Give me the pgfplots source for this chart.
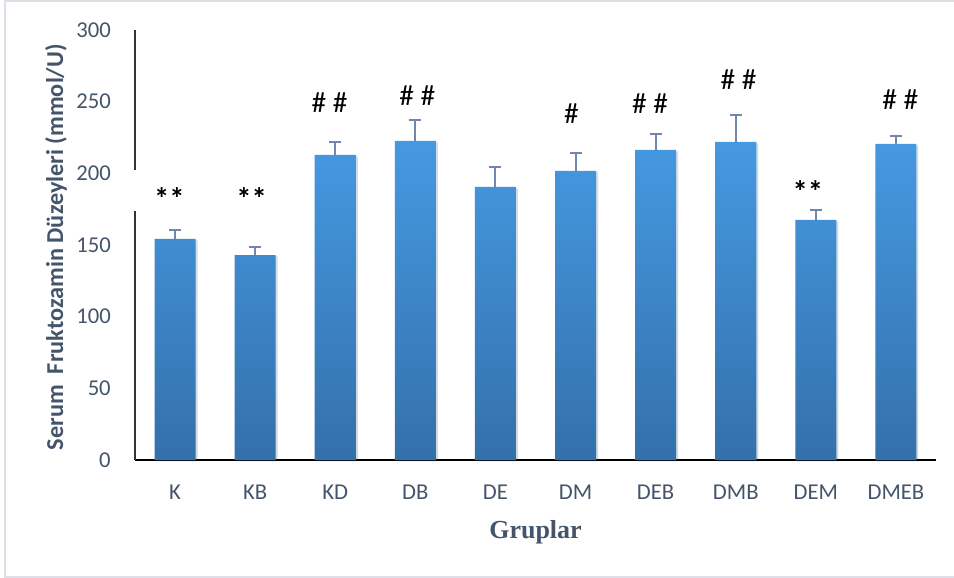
\documentclass[border=0pt]{standalone}
\usepackage{fontspec}
\setmainfont{Carlito}
\newfontfamily\timesfont{Liberation Serif}
\usepackage{pgfplots}
\usepackage{pgfplotstable}
\pgfplotsset{compat=1.18}

\definecolor{barTop}{HTML}{4599E1}
\definecolor{barBot}{HTML}{3470AB}
\definecolor{errCol}{HTML}{6F87A8}
\definecolor{textCol}{HTML}{44546A}
\definecolor{frameCol}{HTML}{DDE1E7}

% group means and upper error (mmol/U)
\pgfplotstableread{
x  y      e
0  154.2  6.3
1  143.0  5.3
2  212.8  9.3
3  222.6  14.7
4  190.5  13.7
5  201.7  12.8
6  216.3  11.4
7  221.9  18.8
8  167.5  7.2
9  220.5  5.8
}\fruktozamin

\begin{document}
\begin{tikzpicture}
\useasboundingbox (0,0) rectangle (715.5pt,-433.5pt);
\draw[frameCol, line width=1.5pt] (3.75pt,-0.75pt) rectangle (730pt,-432.75pt);
\begin{axis}[
  at={(101.25pt,-345pt)}, anchor=south west,
  scale only axis, width=600.75pt, height=322.5pt,
  clip=false,
  ybar,
  xmin=-0.5, xmax=9.5, ymin=0, ymax=300,
  ytick={0,50,...,300},
  xtick={0,...,9},
  xticklabels={K,KB,KD,DB,DE,DM,DEB,DMB,DEM,DMEB},
  axis x line=bottom, axis y line=left, axis line style={-},
  x axis line style={black, line width=1.1pt},
  y axis line style={black!80, line width=0.9pt},
  major tick length=0pt,
  tick label style={font=\fontsize{17}{19}\selectfont, text=textCol},
  /pgf/number format/assume math mode=true,
  xticklabel style={anchor=base, yshift=-29.25pt, inner sep=0pt},
  yticklabel style={anchor=east, xshift=-18pt, inner sep=0pt},
  ylabel={Serum\ \ Fruktozamin Düzeyleri (mmol/U)},
  ylabel style={at={(axis description cs:-0.0986,0.495)}, anchor=center,
    font=\fontsize{18.2}{21}\selectfont\bfseries, text=textCol},
  xlabel={Gruplar},
  xlabel style={at={(axis description cs:0.5,-0.1814)}, anchor=base,
    font=\fontsize{19.5}{22}\selectfont\timesfont\bfseries, text=textCol},
]
\addplot[bar width=0.5125, draw=none, top color=barTop, bottom color=barBot,
  preaction={fill=black, opacity=0.10, draw=none,
    transform canvas={xshift=1.5pt, yshift=-1pt}},
  error bars/.cd, y dir=plus, y explicit,
  error bar style={errCol, line width=1.5pt},
  error mark options={errCol, rotate=90, mark size=4.5pt, line width=1.5pt}]
  table[x=x, y=y, y error=e] {\fruktozamin};

% significance marks
\begin{scope}[every node/.style={anchor=base, inner sep=0pt, font=\fontsize{22}{24}\selectfont}]
\node[font=\fontsize{23}{24}\selectfont\bfseries] at (axis cs:-0.07,174.5) {**};
\node[font=\fontsize{23}{24}\selectfont\bfseries] at (axis cs:0.955,174.5) {**};
\node at (axis cs:1.93,242.6) {\# \#};
\node at (axis cs:3.025,247) {\# \#};
\node at (axis cs:4.95,234.5) {\#};
\node at (axis cs:5.93,241.9) {\# \#};
\node at (axis cs:7.035,258.2) {\# \#};
\node[font=\fontsize{23}{24}\selectfont\bfseries] at (axis cs:7.9,179.4) {**};
\node at (axis cs:9.055,244.2) {\# \#};
\end{scope}
\coordinate (g1) at (axis cs:-0.5,173.5);
\coordinate (g2) at (axis cs:-0.5,202);
\end{axis}
\draw[white, line width=3pt] (g1) -- (g2);
\end{tikzpicture}
\end{document}
